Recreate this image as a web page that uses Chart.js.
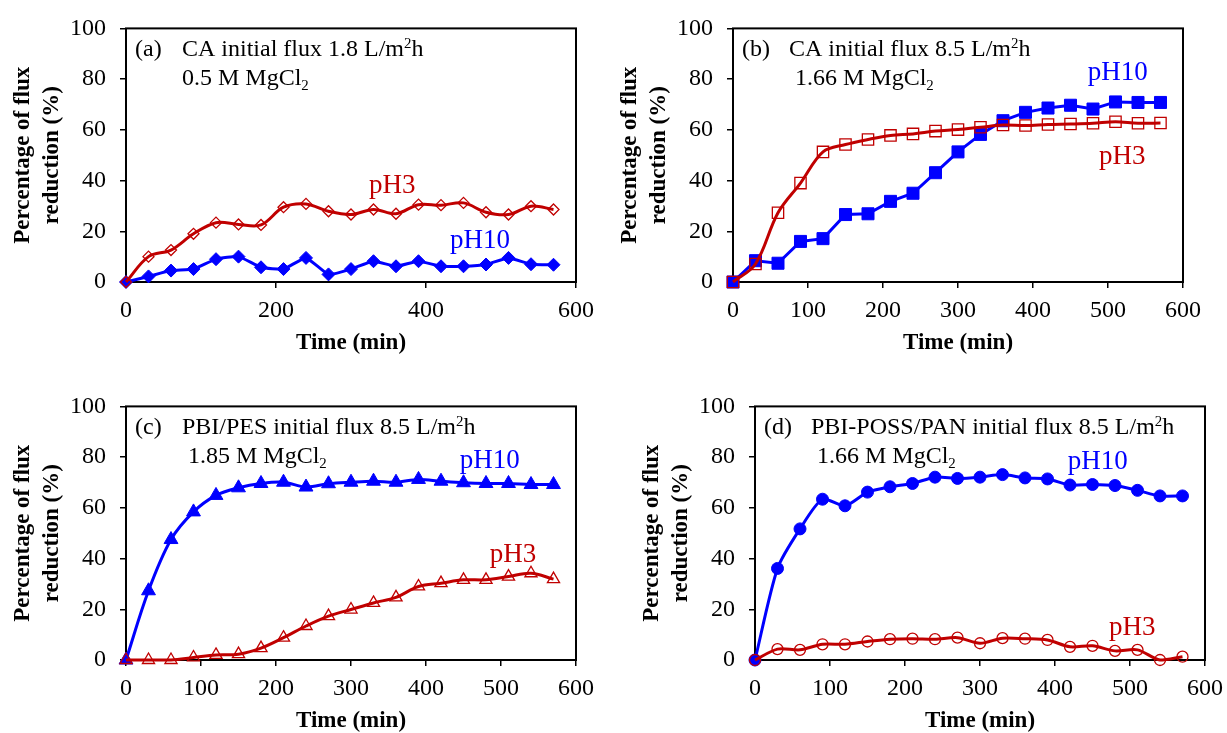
<!DOCTYPE html>
<html><head><meta charset="utf-8">
<script src="https://cdn.jsdelivr.net/npm/chart.js@4.4.1/dist/chart.umd.min.js"></script>
<style>
html,body{margin:0;padding:0;background:#fff;overflow:hidden;width:1227px;height:733px;position:relative;}
canvas{position:absolute;}
</style></head><body>
<canvas id="ca" style="left:0px;top:0px" width="613" height="366"></canvas>
<canvas id="cb" style="left:607px;top:0px" width="613" height="366"></canvas>
<canvas id="cc" style="left:0px;top:378px" width="613" height="366"></canvas>
<canvas id="cd" style="left:629px;top:378px" width="613" height="366"></canvas>
<script>
// ---- data ----
const time = [0,30,60,90,120,150,180,210,240,270,300,330,360,390,420,450,480,510,540,570];

const aPH3  = [0,10,12.6,19,23.4,22.7,22.5,29.5,30.8,27.9,26.6,28.6,26.9,30.5,30.3,31.2,27.5,26.6,29.9,28.6];
const aPH10 = [0,2.2,4.5,5.1,9,10,5.8,5.1,9.5,3,5.1,8.2,6.2,8.2,6.2,6.2,6.9,9.5,7,6.8];

const bPH3  = [0,7.1,27.3,39,51.3,54.2,56.2,57.8,58.4,59.5,60.1,61,61.9,61.7,62.1,62.3,62.6,63.2,62.6,62.7];
const bPH10 = [0,8.4,7.4,16,17.1,26.6,26.9,31.8,35,43.1,51.3,58.2,63.6,66.9,68.6,69.7,68.2,71,70.8,70.8];

const cPH3  = [0,0,0,1,2,2.3,4.7,8.8,13.4,17.3,19.9,22.5,24.7,29,30.3,31.6,31.6,32.9,34.2,31.9];
const cPH10 = [0,27.3,47.5,58.4,64.9,67.9,69.6,70.1,68.2,69.5,70.1,70.5,70.1,71.2,70.5,69.9,69.6,69.6,69.2,69.2];

const dPH3  = [0,4.3,4,6.2,6.2,7.3,8.2,8.4,8.2,8.8,6.6,8.6,8.4,7.9,5.2,5.6,3.6,4,0,1.3];
const dPH10 = [0,36.1,51.7,63.4,60.8,66.2,68.3,69.6,72.1,71.6,72.1,73.1,71.8,71.4,69,69.2,68.8,66.9,64.7,64.7];

const yTicks = [0,20,40,60,80,100];
const xStepA = 200, xStepOther = 100;

const panelLetters = ['(a)','(b)','(c)','(d)'];
const panelLine1 = [
  [['CA initial flux 1.8 L/m'],['2','sup'],['h']],
  [['CA initial flux 8.5 L/m'],['2','sup'],['h']],
  [['PBI/PES initial flux 8.5 L/m'],['2','sup'],['h']],
  [['PBI-POSS/PAN initial flux 8.5 L/m'],['2','sup'],['h']]
];
const panelLine2 = [
  [['0.5 M MgCl'],['2','sub']],
  [['1.66 M MgCl'],['2','sub']],
  [['1.85 M MgCl'],['2','sub']],
  [['1.66 M MgCl'],['2','sub']]
];
// label anchor (in data units: time, percent)
const ph3Label  = [[355,37.7],[519,49.4],[516,41.3],[503,12.5]];
const ph10Label = [[472,16.3],[513,82.5],[485,78.7],[457,78.3]];

const yTitle = ['Percentage of flux','reduction (%)'];
const xTitle = 'Time (min)';

// ---- styles ----
const RED = '#C00000', BLUE = '#0000FF';
const SERIF = '"Liberation Serif","Times New Roman",serif';

function richText(ctx, x, y, segs, size){
  let cx = x;
  for (const s of segs){
    const mode = s[1]||'';
    let fs = size, dy = 0;
    if (mode==='sup'){ fs = size*0.62; dy = -size*0.36; }
    if (mode==='sub'){ fs = size*0.62; dy = size*0.2; }
    ctx.font = fs+'px '+SERIF;
    ctx.fillText(s[0], cx, y+dy);
    cx += ctx.measureText(s[0]).width;
  }
}

const annot = {
  id:'annot',
  beforeDatasetsDraw(chart){
    const {ctx, chartArea:a} = chart;
    ctx.save();
    ctx.strokeStyle = '#000'; ctx.lineWidth = 2;
    ctx.strokeRect(a.left, a.top, a.right-a.left, a.bottom-a.top);
    ctx.restore();
  },
  afterDatasetsDraw(chart){
    const {ctx, chartArea:a, scales} = chart;
    const i = chart.options.plugins.annot.idx;
    ctx.save();
    ctx.fillStyle = '#000';
    ctx.textAlign = 'left'; ctx.textBaseline = 'alphabetic';
    ctx.font = '24px '+SERIF;
    ctx.fillText(panelLetters[i], a.left+9, a.top+28);
    richText(ctx, a.left+56, a.top+28, panelLine1[i], 24);
    richText(ctx, a.left+(i===0?56:62), a.top+57, panelLine2[i], 24);
    ctx.textAlign = 'center'; ctx.textBaseline = 'middle';
    ctx.font = '27px '+SERIF;
    ctx.fillStyle = RED;
    ctx.fillText('pH3', scales.x.getPixelForValue(ph3Label[i][0]), scales.y.getPixelForValue(ph3Label[i][1]));
    ctx.fillStyle = BLUE;
    ctx.fillText('pH10', scales.x.getPixelForValue(ph10Label[i][0]), scales.y.getPixelForValue(ph10Label[i][1]));
    ctx.restore();
  }
};

function makeChart(id, idx, red, blue, xStep, ms){
  const pts = (arr)=>arr.map((v,k)=>({x:time[k], y:v}));
  new Chart(document.getElementById(id), {
    type:'line',
    data:{datasets:[
      {data:pts(red), borderColor:RED, borderWidth:3, tension:ms.redT,
       pointStyle:ms.redStyle, pointRadius:ms.redR, pointBorderWidth:1.3,
       pointBorderColor:RED, pointBackgroundColor:'rgba(0,0,0,0)', clip:false},
      {data:pts(blue), borderColor:BLUE, borderWidth:3, tension:ms.blueT,
       pointStyle:ms.blueStyle, pointRadius:ms.blueR, pointBorderWidth:1,
       pointBorderColor:BLUE, pointBackgroundColor:BLUE, clip:false}
    ]},
    options:{
      responsive:false, animation:false, events:[],
      layout:{padding:{left:0, top:25, right:37, bottom:0}},
      plugins:{legend:{display:false}, tooltip:{enabled:false}, annot:{idx}},
      scales:{
        x:{type:'linear', min:0, max:600,
           ticks:{stepSize:xStep, color:'#000', font:{family:SERIF, size:24}, padding:8, maxRotation:0},
           grid:{display:true, drawOnChartArea:false, drawTicks:true, tickLength:6, color:'#000', lineWidth:1.5},
           border:{display:false},
           title:{display:true, text:xTitle, color:'#000', font:{family:SERIF, size:23, weight:'bold', lineHeight:1.2}, padding:{top:0,bottom:9}},
           afterFit(s){ s.height = 84; }
        },
        y:{min:0, max:100,
           afterBuildTicks(s){ s.ticks = yTicks.map(v=>({value:v})); },
           ticks:{color:'#000', font:{family:SERIF, size:24}, padding:14},
           grid:{display:true, drawOnChartArea:false, drawTicks:true, tickLength:6, color:'#000', lineWidth:1.5},
           border:{display:false},
           title:{display:true, text:yTitle, color:'#000', font:{family:SERIF, size:23, weight:'bold', lineHeight:1.26}, padding:{top:8.5,bottom:0}},
           afterFit(s){ s.width = 126; }
        }
      }
    },
    plugins:[annot]
  });
}

makeChart('ca',0,aPH3,aPH10,xStepA,{redStyle:'rectRot',redR:5.5,redT:0.35,blueStyle:'rectRot',blueR:6.5,blueT:0.15});
makeChart('cb',1,bPH3,bPH10,xStepOther,{redStyle:'rect',redR:8,redT:0.35,blueStyle:'rect',blueR:8.5,blueT:0});
makeChart('cc',2,cPH3,cPH10,xStepOther,{redStyle:'triangle',redR:7,redT:0.35,blueStyle:'triangle',blueR:8,blueT:0.35});
makeChart('cd',3,dPH3,dPH10,xStepOther,{redStyle:'circle',redR:5.5,redT:0.3,blueStyle:'circle',blueR:6,blueT:0.25});
</script>
</body></html>
